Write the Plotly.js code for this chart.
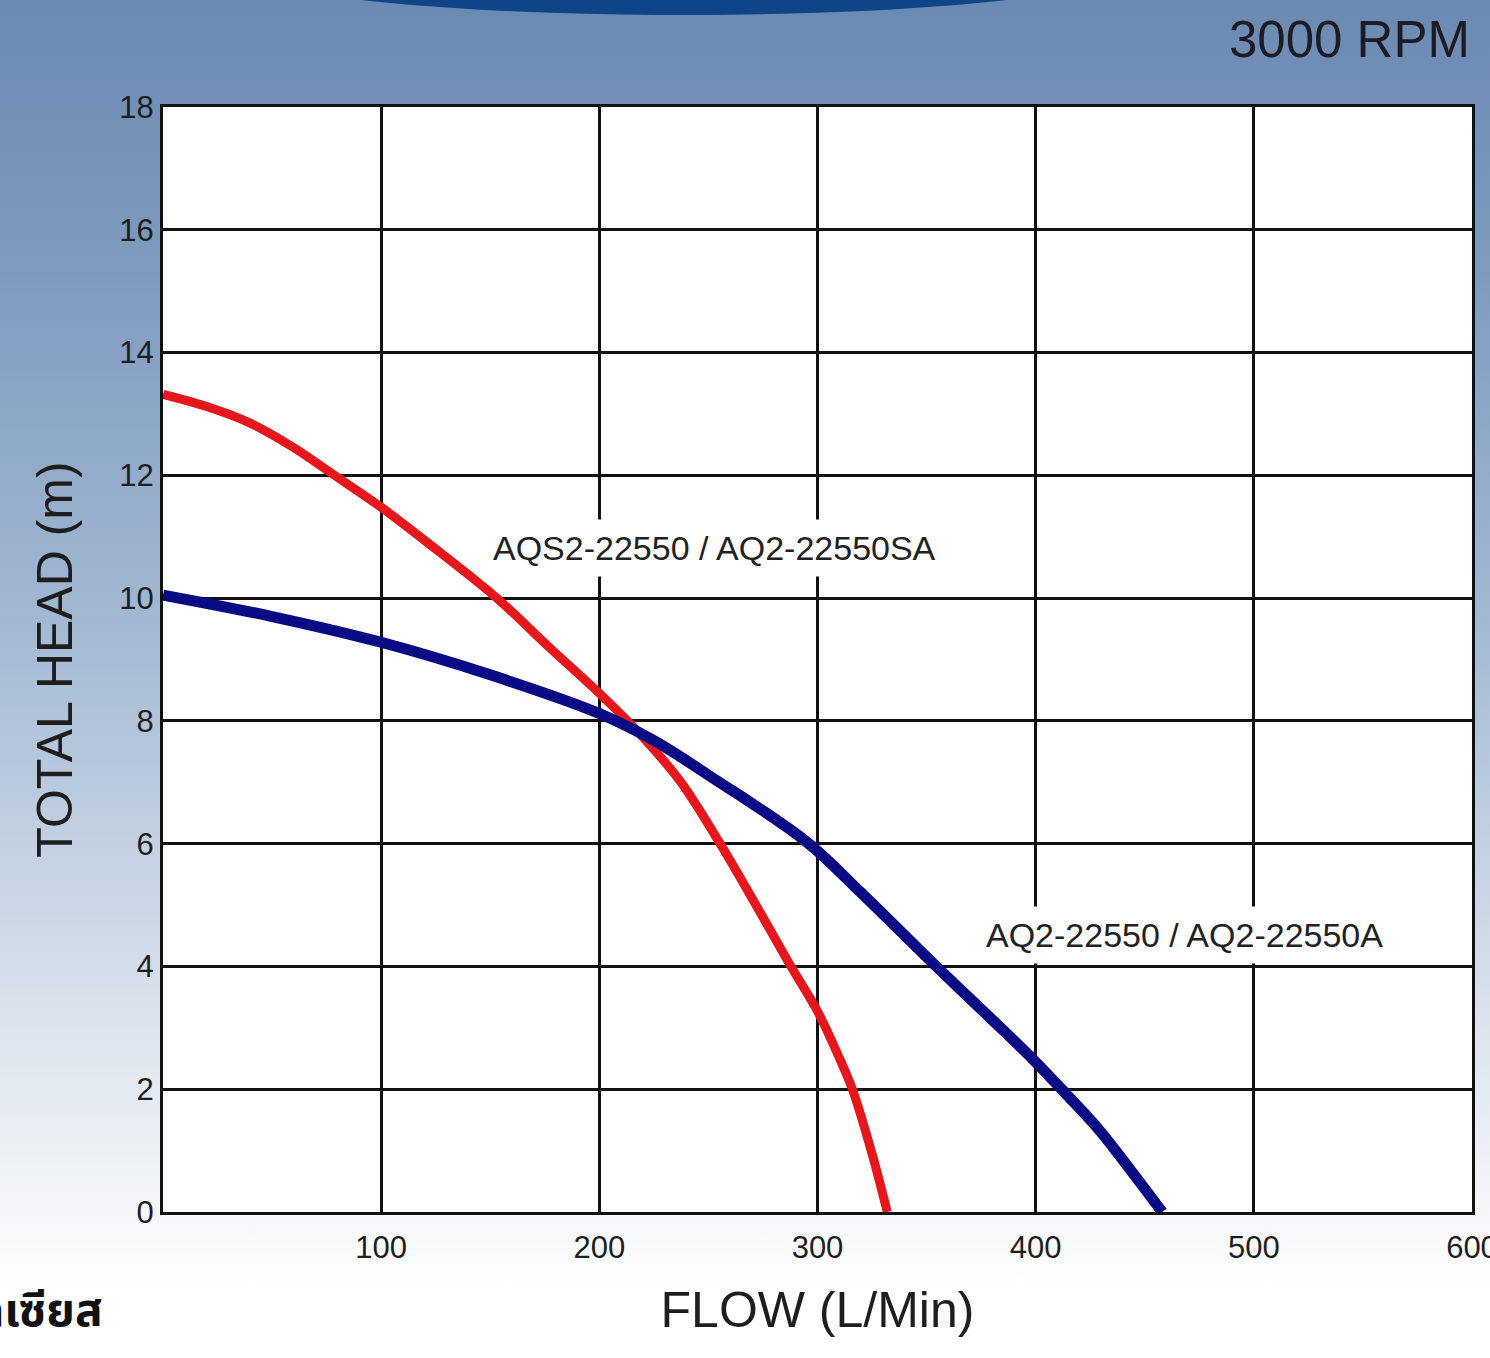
<!DOCTYPE html>
<html>
<head>
<meta charset="utf-8">
<script src="https://cdn.plot.ly/plotly-3.0.1.min.js"></script>
<style>
  html, body { margin: 0; padding: 0; }
  body {
    width: 1490px; height: 1358px; overflow: hidden;
    background: linear-gradient(to bottom, #6b8ab2 0%, #7e9bbf 20%, #a1b8d2 45%, #c8d5e4 65%, #edf1f6 85%, #ffffff 95%);
  }
  #chart { width: 1490px; height: 1358px; }
</style>
</head>
<body>
<div id="chart"></div>
<script>
// ---- data ----
const flowRed  = [0, 20, 40, 60, 77, 100, 125, 153, 177, 200, 217, 237, 255, 271, 287, 300, 310, 316, 325, 332];
const headRed  = [13.32, 13.12, 12.85, 12.45, 12.04, 11.48, 10.8, 10.0, 9.2, 8.45, 7.85, 7.02, 6.02, 5.05, 4.05, 3.27, 2.51, 2.0, 0.95, 0.0];
const flowBlue = [0, 50, 100, 150, 200, 225, 252, 295, 320, 353, 376, 399, 414, 429, 444, 458];
const headBlue = [10.05, 9.7, 9.28, 8.75, 8.12, 7.68, 7.07, 6.03, 5.2, 4.05, 3.27, 2.48, 1.92, 1.34, 0.66, 0.0];
const xTickVals = [100, 200, 300, 400, 500, 600];
const yTickVals = [0, 2, 4, 6, 8, 10, 12, 14, 16, 18];
const seriesNames = ["AQS2-22550 / AQ2-22550SA", "AQ2-22550 / AQ2-22550A"];
const labelPos = [[253, 10.81], [468, 4.51]];
const speedText = "3000 RPM";
const xTitle = "FLOW (L/Min)";
const yTitle = "TOTAL HEAD (m)";
const cornerText = "องศาเซลเซียส";

const FONT = '"Liberation Sans", Arial, Helvetica, sans-serif';
const INK = '#1e1e1e';

const traces = [
  { x: flowRed, y: headRed, mode: 'lines', name: seriesNames[0],
    line: { color: '#e5171c', width: 9, shape: 'spline', smoothing: 1 } },
  { x: flowBlue, y: headBlue, mode: 'lines', name: seriesNames[1],
    line: { color: '#0b0a85', width: 11, shape: 'spline', smoothing: 1 } }
];

const layout = {
  width: 1490, height: 1358, autosize: false,
  margin: { l: 163, r: 18, t: 107, b: 146, pad: 0 },
  paper_bgcolor: 'rgba(0,0,0,0)',
  plot_bgcolor: '#ffffff',
  showlegend: false,
  font: { family: FONT, color: INK },
  xaxis: {
    range: [0, 600], tickmode: 'array', tickvals: xTickVals,
    ticks: '', showline: true, mirror: true, linecolor: '#111', linewidth: 3,
    showgrid: true, gridcolor: '#111', gridwidth: 3, zeroline: false,
    tickfont: { family: FONT, size: 31, color: INK }, ticklabelstandoff: 6,
    ticklabeloverflow: 'allow',
    title: { text: xTitle, font: { family: FONT, size: 50, color: INK }, standoff: 28 }
  },
  yaxis: {
    range: [0, 18], tickmode: 'array', tickvals: yTickVals,
    ticks: '', showline: true, mirror: true, linecolor: '#111', linewidth: 3,
    showgrid: true, gridcolor: '#111', gridwidth: 3, zeroline: false,
    tickfont: { family: FONT, size: 31, color: INK }, ticklabelstandoff: 0,
    ticklabeloverflow: 'allow',
    title: { text: yTitle, font: { family: FONT, size: 50, color: INK }, standoff: 31 }
  },
  shapes: [
    { type: 'circle', xref: 'paper', yref: 'paper',
      x0: 0.0672, x1: 0.7288, y0: 1.0833, y1: 1.1647,
      fillcolor: '#0f4486', line: { width: 0 }, layer: 'above' }
  ],
  annotations: [
    { xref: 'x', yref: 'y', x: labelPos[0][0], y: labelPos[0][1], text: seriesNames[0],
      showarrow: false, font: { family: FONT, size: 34, color: '#222' },
      bgcolor: '#ffffff', borderpad: 9 },
    { xref: 'x', yref: 'y', x: labelPos[1][0], y: labelPos[1][1], text: seriesNames[1],
      showarrow: false, font: { family: FONT, size: 34, color: '#222' },
      bgcolor: '#ffffff', borderpad: 9 },
    { xref: 'paper', yref: 'paper', x: 1.0, y: 1.0615, xanchor: 'right', yanchor: 'middle',
      text: speedText, showarrow: false, font: { family: FONT, size: 51, color: '#1c1c24' } },
    { xref: 'paper', yref: 'paper', x: -0.0443, y: -0.0905, xanchor: 'right', yanchor: 'middle',
      text: '<b>' + cornerText + '</b>', showarrow: false,
      font: { family: '"Noto Sans Thai", "Noto Sans", "Loma", "Tlwg Typo", sans-serif', size: 46, color: '#111' } }
  ]
};

Plotly.newPlot('chart', traces, layout, { displayModeBar: false, staticPlot: true });
</script>
</body>
</html>
